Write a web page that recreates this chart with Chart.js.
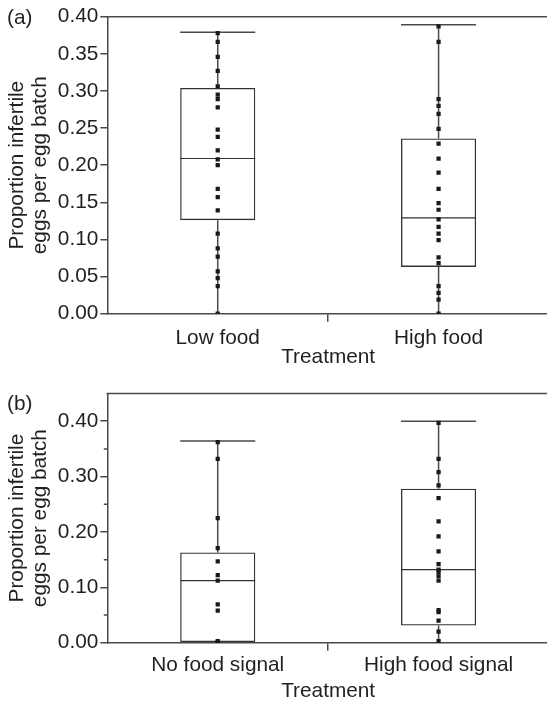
<!DOCTYPE html>
<html>
<head>
<meta charset="utf-8">
<script src="https://cdn.jsdelivr.net/npm/chart.js@4.4.0/dist/chart.umd.min.js"></script>
<style>
  html, body { margin: 0; padding: 0; background: #fff; }
  body { width: 547px; height: 702px; overflow: hidden; }
  canvas { display: block; }
</style>
</head>
<body>
<canvas id="panelA" width="553" height="370"></canvas>
<canvas id="panelB" width="553" height="332"></canvas>
<script>
const FONT = "'Liberation Sans', Arial, Helvetica, sans-serif";
const INK = '#231f20';
const AXIS = '#4a4a4a';

// (a) food availability
const treatmentsA = ['Low food', 'High food'];
const lowFood = [0.378, 0.366, 0.346, 0.327, 0.306, 0.295, 0.289, 0.278, 0.248, 0.238, 0.220, 0.208,
                 0.200, 0.168, 0.157, 0.139, 0.108, 0.088, 0.077, 0.057, 0.048, 0.037, 0.000];
const highFood = [0.387, 0.366, 0.289, 0.280, 0.269, 0.249, 0.229, 0.209, 0.190, 0.168, 0.149,
                  0.140, 0.127, 0.117, 0.108, 0.099, 0.076, 0.068, 0.037, 0.028, 0.019, 0.000];
const minA = [0.000, 0.000];
const q1A = [0.126, 0.063];
const medianA = [0.209, 0.129];
const q3A = [0.304, 0.236];
const maxA = [0.379, 0.389];

// (b) food signal
const treatmentsB = ['No food signal', 'High food signal'];
const noSignal = [0.362, 0.332, 0.225, 0.171, 0.147, 0.122, 0.112, 0.069, 0.058, 0.003, 0.000, 0.000];
const highSignal = [0.397, 0.332, 0.308, 0.284, 0.261, 0.219, 0.192, 0.165, 0.142, 0.132, 0.127,
                    0.120, 0.112, 0.059, 0.055, 0.040, 0.020, 0.003];
const minB = [0.000, 0.000];
const q1B = [0.000, 0.031];
const medianB = [0.112, 0.132];
const q3B = [0.163, 0.278];
const maxB = [0.364, 0.400];
const minorTicksB = [0.05, 0.15, 0.25, 0.35];

// whiskers, caps and median lines, drawn under the points
const boxWhiskers = {
  id: 'boxWhiskers',
  beforeDatasetsDraw(chart, args, opts) {
    const ctx = chart.ctx;
    const y = chart.scales.y;
    const boxes = chart.getDatasetMeta(1).data;
    ctx.save();
    boxes.forEach(function(box, i) {
      const x = box.x;
      const half = box.width / 2;
      const top = y.getPixelForValue(opts.max[i]);
      const bottom = y.getPixelForValue(opts.min[i]);
      const upper = y.getPixelForValue(opts.q3[i]);
      const lower = y.getPixelForValue(opts.q1[i]);
      const mid = y.getPixelForValue(opts.median[i]);
      ctx.strokeStyle = AXIS;
      ctx.lineWidth = 1.5;
      ctx.beginPath();
      ctx.moveTo(x, top); ctx.lineTo(x, upper);
      ctx.moveTo(x, lower); ctx.lineTo(x, bottom);
      ctx.moveTo(x - half, top); ctx.lineTo(x + half, top);
      ctx.stroke();
      ctx.strokeStyle = '#333';
      ctx.lineWidth = 1.2;
      ctx.beginPath();
      ctx.moveTo(x - half, mid); ctx.lineTo(x + half, mid);
      ctx.stroke();
    });
    ctx.restore();
  }
};

// top frame line, short minor ticks and the panel letter
const frame = {
  id: 'frame',
  afterDraw(chart, args, opts) {
    const ctx = chart.ctx;
    const area = chart.chartArea;
    const y = chart.scales.y;
    ctx.save();
    ctx.strokeStyle = AXIS;
    ctx.lineWidth = 1.5;
    ctx.beginPath();
    ctx.moveTo(area.left - 0.75, area.top);
    ctx.lineTo(area.right, area.top);
    (opts.minor || []).forEach(function(v) {
      const py = y.getPixelForValue(v);
      ctx.moveTo(area.left - 3.5, py);
      ctx.lineTo(area.left, py);
    });
    ctx.stroke();
    ctx.fillStyle = INK;
    ctx.font = '20.8px ' + FONT;
    ctx.textBaseline = 'middle';
    ctx.textAlign = 'left';
    ctx.fillText(opts.tag, 7, opts.tagY);
    ctx.restore();
  }
};

function makePanel(id, labels, groups, stats, cfg) {
  const points = [];
  groups.forEach(function(vals, i) {
    vals.forEach(function(v) { points.push({ x: labels[i], y: v }); });
  });
  return new Chart(document.getElementById(id), {
    type: 'bar',
    data: {
      labels: labels,
      datasets: [
        {
          type: 'line',
          data: points,
          showLine: false,
          pointStyle: 'rect',
          pointRadius: 3,
          pointBackgroundColor: '#1a1a1a',
          pointBorderWidth: 0,
          order: 0
        },
        {
          data: labels.map(function(l, i) { return [stats.q1[i], stats.q3[i]]; }),
          backgroundColor: 'rgba(255,255,255,0)',
          borderColor: '#333',
          borderWidth: 1.3,
          borderSkipped: false,
          barPercentage: 0.34,
          categoryPercentage: 1,
          order: 1
        }
      ]
    },
    options: {
      responsive: false,
      animation: false,
      events: [],
      layout: { padding: { top: cfg.top, left: 0, right: 0, bottom: 0 } },
      plugins: {
        legend: { display: false },
        tooltip: { enabled: false },
        boxWhiskers: stats,
        frame: { tag: cfg.tag, tagY: cfg.tagY, minor: cfg.minor }
      },
      scales: {
        x: {
          afterFit: function(scale) { scale.height = cfg.xHeight; },
          grid: {
            offset: true,
            drawOnChartArea: false,
            color: AXIS,
            tickColor: function(c) { return c.index === 0 ? 'rgba(0,0,0,0)' : AXIS; },
            lineWidth: 1.5,
            tickLength: 8
          },
          border: { color: AXIS, width: 1.5 },
          ticks: { color: INK, font: { family: FONT, size: 20.8 }, padding: cfg.xPad, maxRotation: 0, autoSkip: false },
          title: {
            display: true,
            text: 'Treatment',
            color: INK,
            font: { family: FONT, size: 20.8, lineHeight: 1 },
            padding: { top: 0, bottom: cfg.titlePad }
          }
        },
        y: {
          min: 0,
          max: cfg.yMax,
          afterFit: function(scale) { scale.width = 107.3; },
          grid: { drawOnChartArea: false, color: AXIS, lineWidth: 1.5, tickLength: 7 },
          border: { color: AXIS, width: 1.5 },
          ticks: {
            stepSize: cfg.yStep,
            includeBounds: false,
            color: INK,
            font: { family: FONT, size: 20.8 },
            padding: 2,
            callback: function(v) { return v.toFixed(2); }
          },
          title: {
            display: true,
            text: ['Proportion infertile', 'eggs per egg batch'],
            color: INK,
            font: { family: FONT, size: 20.8, lineHeight: 1.08 },
            padding: { top: 6.5, bottom: 0 }
          }
        }
      }
    },
    plugins: [boxWhiskers, frame]
  });
}

makePanel('panelA', treatmentsA, [lowFood, highFood],
  { min: minA, q1: q1A, median: medianA, q3: q3A, max: maxA },
  { top: 16.7, xHeight: 56.3, xPad: 4, titlePad: 2, yMax: 0.40, yStep: 0.05, tag: '(a)', tagY: 18, minor: [] });

makePanel('panelB', treatmentsB, [noSignal, highSignal],
  { min: minB, q1: q1B, median: medianB, q3: q3B, max: maxB },
  { top: 23.5, xHeight: 59.3, xPad: 2, titlePad: 0, yMax: 0.45, yStep: 0.10, tag: '(b)', tagY: 34, minor: minorTicksB });
</script>
</body>
</html>
